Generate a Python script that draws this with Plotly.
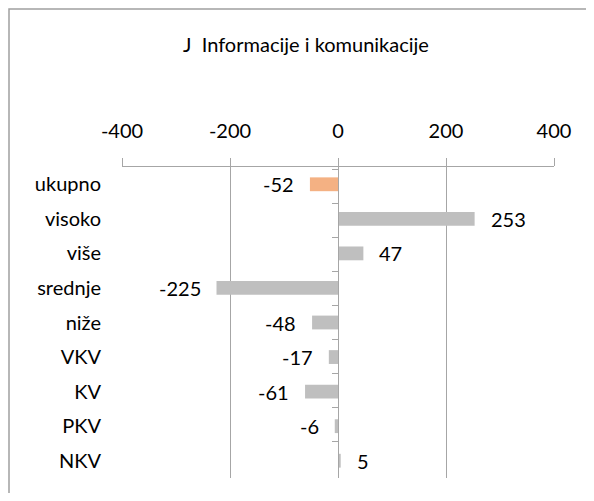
import plotly.graph_objects as go

categories = ["ukupno", "visoko", "više", "srednje", "niže", "VKV", "KV", "PKV", "NKV"]
values = [-52, 253, 47, -225, -48, -17, -61, -6, 5]
colors = ["#f4b183"] + ["#bfbfbf"] * 8
x_ticks = [-400, -200, 0, 200, 400]
x_tick_labels = ["-400", "-200", "0", "200", "400"]
title_text = "J  Informacije i komunikacije"

FONT = "Lato"
FS = 20
GRID = "#a6a6a6"

# The page body adds an 8px margin; figure is sized so the page fits 594x501.
W, H = 578, 485
L, R, T, B = 114, 32, 159, 15
PW, PH = W - L - R, H - T - B

fig = go.Figure()
fig.add_trace(go.Bar(
    x=values, y=categories, orientation="h",
    marker=dict(color=colors, line=dict(width=0)),
    width=0.4, hoverinfo="x+y", showlegend=False,
))
# invisible trace to carry the zero-positioned category axis
fig.add_trace(go.Scatter(
    x=[0] * len(categories), y=categories, yaxis="y2", mode="markers",
    marker=dict(opacity=0), hoverinfo="skip", showlegend=False,
))

for c, v in zip(categories, values):
    fig.add_annotation(
        x=v, y=c, text=str(v), showarrow=False,
        xanchor="right" if v < 0 else "left",
        xshift=-14 if v < 0 else 14,
        font=dict(family=FONT, size=FS, color="#000000"),
    )

fig.update_layout(
    width=W, height=H,
    margin=dict(l=L, r=R, t=T, b=B),
    paper_bgcolor="white", plot_bgcolor="white",
    title=dict(text=title_text, x=298 / W, xanchor="center", y=1 - 37 / H, yanchor="middle",
               font=dict(family=FONT, size=FS, color="#000000")),
    xaxis=dict(
        range=[-400, 400], tickvals=x_ticks, ticktext=x_tick_labels, side="top",
        showgrid=True, gridcolor=GRID, gridwidth=1,
        zeroline=False, showline=True, linecolor=GRID, linewidth=1,
        ticks="outside", ticklen=8, tickcolor=GRID,
        ticklabelstandoff=12,
        tickfont=dict(family=FONT, size=FS, color="#000000"),
        fixedrange=True, automargin=False,
    ),
    yaxis=dict(
        categoryorder="array", categoryarray=categories, autorange="reversed",
        showgrid=False, zeroline=False, showline=False, ticks="",
        ticklabelstandoff=20, automargin=False,
        tickfont=dict(family=FONT, size=FS, color="#000000"),
    ),
    yaxis2=dict(
        overlaying="y", anchor="free", position=0.5, side="left",
        categoryorder="array", categoryarray=categories, autorange="reversed",
        showgrid=False, zeroline=False, showline=True, linecolor=GRID, linewidth=1,
        ticks="outside", ticklen=6, tickcolor=GRID, tickson="boundaries",
        showticklabels=False, automargin=False,
    ),
    bargap=0.6,
)

fig.add_shape(type="rect", xref="paper", yref="paper",
              x0=(1 - L) / PW, x1=1.3, y0=-0.3, y1=(PH + T - 1) / PH,
              line=dict(color="#a0a0a0", width=1.5), fillcolor="rgba(0,0,0,0)", layer="below")

fig.write_html("out.html")
